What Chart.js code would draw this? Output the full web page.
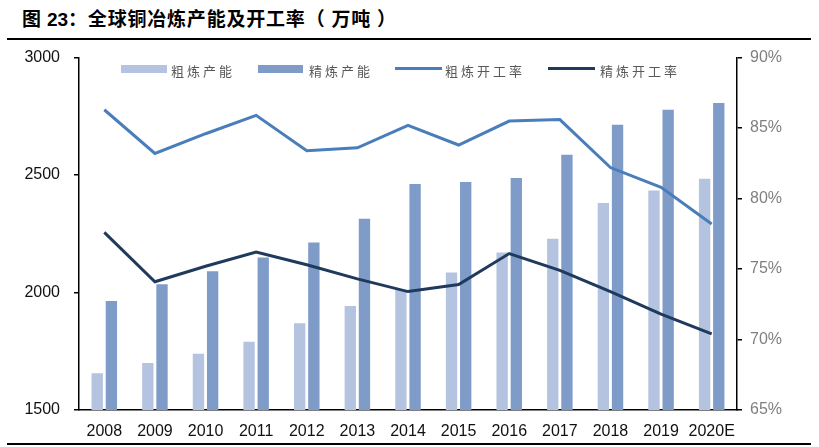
<!DOCTYPE html>
<html>
<head>
<meta charset="utf-8">
<script src="https://cdn.jsdelivr.net/npm/chart.js@4"></script>
<style>
    body { margin: 0; background: #fff; }
    #page { position: relative; width: 819px; height: 447px; overflow: hidden; background: #fff; }
    #title { position: absolute; left: 22px; top: 4px; font: bold 19px "Noto Sans CJK SC", sans-serif; letter-spacing: 0.8px; color: #000; white-space: nowrap; }
    #title .num { font-family: "Liberation Sans", Arial, sans-serif; letter-spacing: 0; }
    #title .unit { margin: 0 6px; }
    .rule { position: absolute; left: 7px; width: 804px; height: 2px; background: #000; }
    #wrap { position: absolute; left: 0; top: 34px; width: 819px; height: 408px; }
    .lg { position: absolute; }
    .lgtext { position: absolute; top: 61px; font: 13px "Noto Sans CJK SC", sans-serif; letter-spacing: 3px; color: #595959; white-space: nowrap; }
</style>
</head>
<body>
<div id="page">
    <div id="title">图 <span class="num">23</span>：全球铜冶炼产能及开工率（<span class="unit">万吨</span>）</div>
    <div class="rule" style="top:38px"></div>
    <div id="wrap"><canvas id="copperChart"></canvas></div>
    <div class="lg" style="left:121px; top:65px; width:46px; height:8px; background:#B4C3DF"></div>
    <div class="lgtext" style="left:171px">粗炼产能</div>
    <div class="lg" style="left:258px; top:65px; width:45px; height:8px; background:#7F9CC9"></div>
    <div class="lgtext" style="left:309px">精炼产能</div>
    <div class="lg" style="left:395px; top:67px; width:47px; height:3px; background:#4A7EBB"></div>
    <div class="lgtext" style="left:445px">粗炼开工率</div>
    <div class="lg" style="left:548px; top:67px; width:47px; height:3px; background:#1F3A5C"></div>
    <div class="lgtext" style="left:600px">精炼开工率</div>
    <div class="rule" style="top:443px"></div>
</div>
<script>
// Global copper smelting capacity (万吨) and utilisation (%)
const years = ['2008', '2009', '2010', '2011', '2012', '2013', '2014', '2015', '2016', '2017', '2018', '2019', '2020E'];
const blisterCapacity = [1656, 1700, 1739, 1791, 1869, 1943, 2012, 2085, 2170, 2229, 2381, 2434, 2484];
const refinedCapacity = [1964, 2035, 2091, 2149, 2213, 2314, 2462, 2471, 2488, 2586, 2714, 2778, 2807];
const blisterRate = [86.3, 83.2, 84.6, 85.9, 83.4, 83.6, 85.2, 83.8, 85.5, 85.6, 82.2, 80.8, 78.2];
const refinedRate = [77.6, 74.1, 75.2, 76.2, 75.3, 74.3, 73.4, 73.9, 76.1, 74.9, 73.4, 71.8, 70.4];

const leftTicks = [1500, 2000, 2500, 3000];
const rightTicks = [65, 70, 75, 80, 85, 90];

document.addEventListener('DOMContentLoaded', function() {
    const ctx = document.getElementById('copperChart').getContext('2d');

    new Chart(ctx, {
        type: 'bar',
        data: {
            labels: years,
            datasets: [
                {
                    label: '粗炼产能',
                    data: blisterCapacity,
                    backgroundColor: '#B4C3DF',
                    yAxisID: 'y',
                    order: 2
                },
                {
                    label: '精炼产能',
                    data: refinedCapacity,
                    backgroundColor: '#7F9CC9',
                    yAxisID: 'y',
                    order: 2
                },
                {
                    type: 'line',
                    label: '粗炼开工率',
                    data: blisterRate,
                    borderColor: '#4A7EBB',
                    borderWidth: 3,
                    pointRadius: 0,
                    tension: 0,
                    yAxisID: 'y1',
                    order: 1
                },
                {
                    type: 'line',
                    label: '精炼开工率',
                    data: refinedRate,
                    borderColor: '#1F3A5C',
                    borderWidth: 3,
                    pointRadius: 0,
                    tension: 0,
                    yAxisID: 'y1',
                    order: 1
                }
            ]
        },
        options: {
            responsive: true,
            maintainAspectRatio: false,
            animation: false,
            layout: {
                autoPadding: false,
                padding: { top: 3, left: 0, right: 0, bottom: 0 }
            },
            datasets: {
                bar: { categoryPercentage: 0.56, barPercentage: 0.8 }
            },
            plugins: {
                legend: { display: false },
                tooltip: { enabled: false }
            },
            scales: {
                x: {
                    grid: { display: false, drawTicks: false },
                    border: { display: true, color: '#000', width: 1.5 },
                    ticks: {
                        color: '#111',
                        padding: 12,
                        maxRotation: 0,
                        autoSkip: false,
                        font: { family: '"Liberation Sans", Arial, sans-serif', size: 16 }
                    },
                    afterFit: function(scale) { scale.height = 32; }
                },
                y: {
                    position: 'left',
                    min: 1500,
                    max: 3000,
                    afterBuildTicks: function(scale) {
                        scale.ticks = leftTicks.map(v => ({ value: v }));
                    },
                    grid: { drawOnChartArea: false, drawTicks: true, tickLength: 5, color: '#000', lineWidth: 1.5 },
                    border: { display: true, color: '#000', width: 1.5 },
                    ticks: {
                        color: '#111',
                        padding: 14,
                        callback: function(value) { return String(value); },
                        font: { family: '"Liberation Sans", Arial, sans-serif', size: 16 }
                    },
                    afterFit: function(scale) { scale.width = 79; }
                },
                y1: {
                    position: 'right',
                    min: 65,
                    max: 90,
                    afterBuildTicks: function(scale) {
                        scale.ticks = rightTicks.map(v => ({ value: v }));
                    },
                    grid: { drawOnChartArea: false, drawTicks: true, tickLength: 5, color: '#000', lineWidth: 1.5 },
                    border: { display: true, color: '#000', width: 1.5 },
                    ticks: {
                        color: '#7F7F7F',
                        padding: 8,
                        callback: function(value) { return value + '%'; },
                        font: { family: '"Liberation Sans", Arial, sans-serif', size: 16 }
                    },
                    afterFit: function(scale) { scale.width = 82; }
                }
            }
        }
    });
});
</script>
</body>
</html>
